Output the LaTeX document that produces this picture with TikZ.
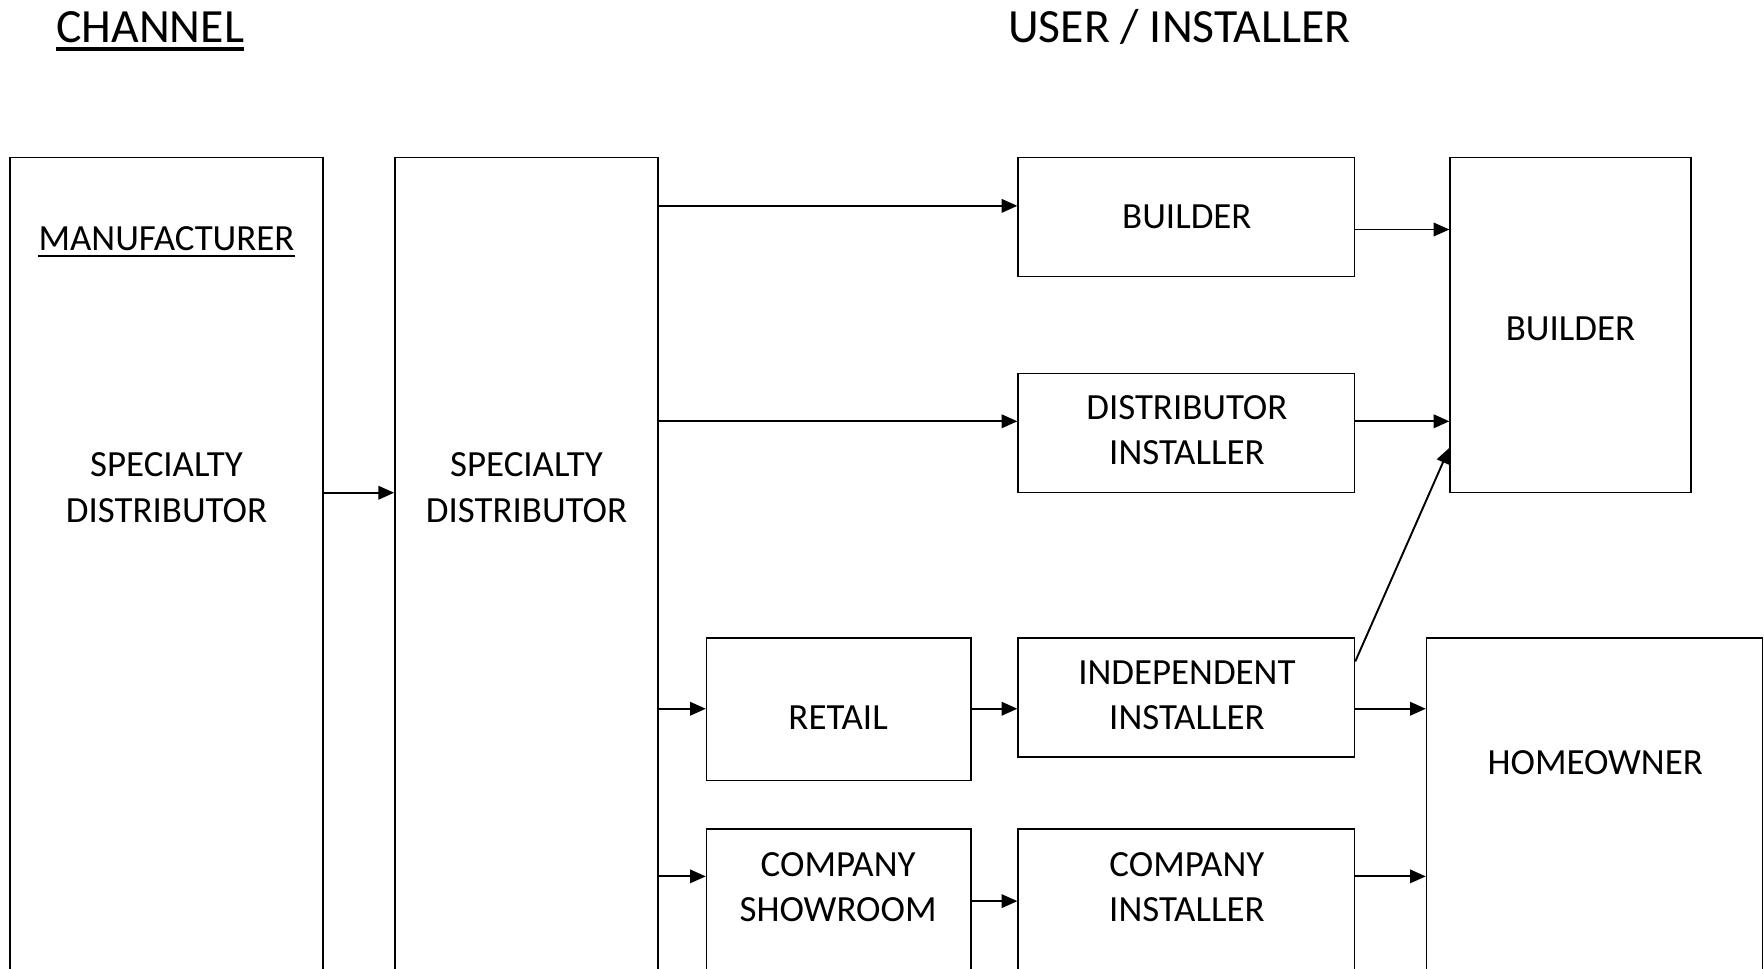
\documentclass[tikz,border=0pt]{standalone}
\usepackage{fontspec}
\setmainfont{Carlito}
\usetikzlibrary{arrows.meta,fit}
\begin{document}
\begin{tikzpicture}[x=0.5pt,y=-0.5pt,
  box/.style={draw, line width=0.65pt, inner sep=0pt},
  lbl/.style={font=\fontsize{16.4}{20.3}\selectfont, align=center, inner sep=0pt},
  ttl/.style={font=\fontsize{21.2}{25}\selectfont, inner sep=0pt},
  arr/.style={line width=0.85pt, -{Triangle[length=7pt,width=6pt]}},
  uline/.style={line width=#1}
  ]
\clip (0,0) rectangle (1568,861);

% column headings
\node[ttl] (chan) at (133.5,24) {CHANNEL};
\draw[uline=1.4pt] ([yshift=-3pt]chan.base west) -- ([yshift=-3pt]chan.base east);
\node[ttl] (user) at (1048.5,24) {USER / INSTALLER};

% boxes (the tall ones run past the lower edge)
\node[box, fit={(9,140) (287,960)}] (mfr) {};
\node[box, fit={(351,140) (585,960)}] (sd) {};
\node[box, fit={(905,140) (1204,246)}] (b1) {};
\node[box, fit={(905,332) (1204,438)}] (di) {};
\node[box, fit={(1289,140) (1503,438)}] (b2) {};
\node[box, fit={(628,567) (863,694)}] (ret) {};
\node[box, fit={(905,567) (1204,673)}] (ii) {};
\node[box, fit={(1268,567) (1566.5,960)}] (home) {};
\node[box, fit={(628,737) (863,960)}] (cs) {};
\node[box, fit={(905,737) (1204,960)}] (ci) {};

% texts
\node[lbl] (mfrt) at (148,212) {MANUFACTURER};
\draw[uline=1pt] ([yshift=-2.4pt]mfrt.base west) -- ([yshift=-2.4pt]mfrt.base east);
\node[lbl] (mfrsd) at (148,433.5) {SPECIALTY\\DISTRIBUTOR};
\node[lbl] (sdt) at (468,433.5) {SPECIALTY\\DISTRIBUTOR};
\node[lbl] (b1t) at (1055,193) {BUILDER};
\node[lbl] (dit) at (1055,382.5) {DISTRIBUTOR\\INSTALLER};
\node[lbl] (b2t) at (1396,292) {BUILDER};
\node[lbl] (rett) at (745,637.5) {RETAIL};
\node[lbl] (iit) at (1055,618) {INDEPENDENT\\INSTALLER};
\node[lbl] (homet) at (1418,678) {HOMEOWNER};
\node[lbl] (cst) at (745,788.5) {COMPANY\\SHOWROOM};
\node[lbl] (cit) at (1055,788.5) {COMPANY\\INSTALLER};

% connectors
\draw[arr] (mfr.east |- 0,438) -- (sd.west |- 0,438);
\draw[arr] (sd.east |- 0,183) -- (b1.west |- 0,183);
\draw[arr] (sd.east |- 0,374.5) -- (di.west |- 0,374.5);
\draw[arr] (sd.east |- 0,630) -- (ret.west |- 0,630);
\draw[arr] (sd.east |- 0,779) -- (cs.west |- 0,779);
\draw[arr] (ret.east |- 0,630) -- (ii.west |- 0,630);
\draw[arr] (cs.east |- 0,801) -- (ci.west |- 0,801);
\draw[arr] (b1.east |- 0,204) -- (b2.west |- 0,204);
\draw[arr] (di.east |- 0,374.5) -- (b2.west |- 0,374.5);
\draw[arr] (ii.east |- 0,588) -- (b2.west |- 0,398);
\draw[arr] (ii.east |- 0,630) -- (home.west |- 0,630);
\draw[arr] (ci.east |- 0,779) -- (home.west |- 0,779);
\end{tikzpicture}
\end{document}
